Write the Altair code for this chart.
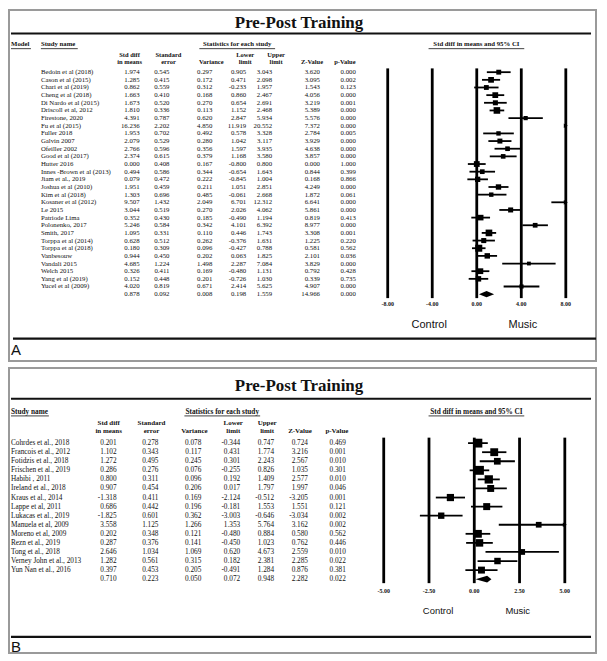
import altair as alt
import pandas as pd

# ---------------- Panel A data ----------------
studies_a = ["Bedoin et al (2018)", "Cason et al (2015)", "Chari et al (2019)", "Cheng et al (2018)",
             "Di Nardo et al (2015)", "Driscoll et al, 2012", "Firestone, 2020", "Fu et al (2015)",
             "Fuller 2018", "Galvin 2007", "Ofeiller 2002", "Good et al (2017)", "Hutter 2016",
             "Innes -Brown et al (2013)", "Jiam et al., 2019", "Joshua et al (2010)", "Kim et al (2018)",
             "Kosaner et al (2012)", "Le 2015", "Patriode Lima", "Polonenko, 2017", "Smith, 2017",
             "Torppa et al (2014)", "Torppa et al (2018)", "Vanbesouw", "Vandali 2015", "Welch 2015",
             "Yang et al (2019)", "Yucel et al (2009)"]
std_diff_a = [1.974, 1.285, 0.862, 1.663, 1.673, 1.810, 4.391, 16.236, 1.953, 2.079, 2.766, 2.374, 0.000,
              0.494, 0.079, 1.951, 1.303, 9.507, 3.044, 0.352, 5.246, 1.095, 0.628, 0.180, 0.944, 4.685,
              0.326, 0.152, 4.020]
std_err_a = [0.545, 0.415, 0.559, 0.410, 0.520, 0.336, 0.787, 2.202, 0.702, 0.529, 0.596, 0.615, 0.408,
             0.586, 0.472, 0.459, 0.696, 1.432, 0.519, 0.430, 0.584, 0.331, 0.512, 0.309, 0.450, 1.224,
             0.411, 0.448, 0.819]
variance_a = [0.297, 0.172, 0.312, 0.168, 0.270, 0.113, 0.620, 4.850, 0.492, 0.280, 0.356, 0.379, 0.167,
              0.344, 0.222, 0.211, 0.485, 2.049, 0.270, 0.185, 0.342, 0.110, 0.262, 0.096, 0.202, 1.498,
              0.169, 0.201, 0.671]
lower_a = [0.905, 0.471, -0.233, 0.860, 0.654, 1.152, 2.847, 11.919, 0.578, 1.042, 1.597, 1.168, -0.800,
           -0.654, -0.845, 1.051, -0.061, 6.701, 2.026, -0.490, 4.101, 0.446, -0.376, -0.427, 0.063, 2.287,
           -0.480, -0.726, 2.414]
upper_a = [3.043, 2.098, 1.957, 2.467, 2.691, 2.468, 5.934, 20.552, 3.328, 3.117, 3.935, 3.580, 0.800,
           1.643, 1.004, 2.851, 2.668, 12.312, 4.062, 1.194, 6.392, 1.743, 1.631, 0.788, 1.825, 7.084,
           1.131, 1.030, 5.625]
z_a = [3.620, 3.095, 1.543, 4.056, 3.219, 5.389, 5.576, 7.372, 2.784, 3.929, 4.638, 3.857, 0.000,
       0.844, 0.168, 4.249, 1.872, 6.641, 5.861, 0.819, 8.977, 3.308, 1.225, 0.581, 2.101, 3.829,
       0.792, 0.339, 4.907]
p_a = [0.000, 0.002, 0.123, 0.000, 0.001, 0.000, 0.000, 0.000, 0.005, 0.000, 0.000, 0.000, 1.000,
       0.399, 0.866, 0.000, 0.061, 0.000, 0.000, 0.413, 0.000, 0.001, 0.220, 0.562, 0.036, 0.000,
       0.428, 0.735, 0.000]
summary_a = [0.878, 0.092, 0.008, 0.198, 1.559, 14.966, 0.000]
ticks_a = [-8.0, -4.0, 0.0, 4.0, 8.0]

# ---------------- Panel B data ----------------
studies_b = ["Cohrdes et al., 2018", "Francois et al., 2012", "Fotidzis et al., 2018", "Frischen et al., 2019",
             "Habibi , 2011", "Ireland et al., 2018", "Kraus et al., 2014", "Lappe et al, 2011",
             "Lukacas et al., 2019", "Manuela et al, 2009", "Moreno et al, 2009", "Rezn et al., 2019",
             "Tong et al., 2018", "Verney John et al., 2013", "Yun Nan et al., 2016"]
std_diff_b = [0.201, 1.102, 1.272, 0.286, 0.800, 0.907, -1.318, 0.686, -1.825, 3.558, 0.202, 0.287, 2.646, 1.282, 0.397]
std_err_b = [0.278, 0.343, 0.495, 0.276, 0.311, 0.454, 0.411, 0.442, 0.601, 1.125, 0.348, 0.376, 1.034, 0.561, 0.453]
variance_b = [0.078, 0.117, 0.245, 0.076, 0.096, 0.206, 0.169, 0.196, 0.362, 1.266, 0.121, 0.141, 1.069, 0.315, 0.205]
lower_b = [-0.344, 0.431, 0.301, -0.255, 0.192, 0.017, -2.124, -0.181, -3.003, 1.353, -0.480, -0.450, 0.620, 0.182, -0.491]
upper_b = [0.747, 1.774, 2.243, 0.826, 1.409, 1.797, -0.512, 1.553, -0.646, 5.764, 0.884, 1.023, 4.673, 2.381, 1.284]
z_b = [0.724, 3.216, 2.567, 1.035, 2.577, 1.997, -3.205, 1.551, -3.034, 3.162, 0.580, 0.762, 2.559, 2.285, 0.876]
p_b = [0.469, 0.001, 0.010, 0.301, 0.010, 0.046, 0.001, 0.121, 0.002, 0.002, 0.562, 0.446, 0.010, 0.022, 0.381]
summary_b = [0.710, 0.223, 0.050, 0.072, 0.948, 2.282, 0.022]
ticks_b = [-5.0, -2.5, 0.0, 2.5, 5.0]

# ---------------- texts ----------------
title_text = "Pre-Post Training"
sub_line1 = ["Std diff", "Standard", "", "Lower", "Upper", "", ""]
sub_line2 = ["in means", "error", "Variance", "limit", "limit", "Z-Value", "p-Value"]
side_labels = ["Control", "Music"]

# ---------------- layout (page pixels) ----------------
LAYOUT_A = {
    "top": 8, "height": 352, "row0": 70.3, "dy": 7.68,
    "forest": (-8.0, 388.0, 8.0, 566.7),
    "title_y": 20.5, "head_y": 42.5, "sub_y": (53.3, 60.2),
    "vline": (66.5, 297.0), "tick_y": 302.5, "side_y": 323.5, "letter_y": 349.5,
    "rules": [(10, 592, 31.5), (12, 597, 337.7)],
    "left_heads": [("Model", 10), ("Study name", 40)],
    "center_heads": [("Statistics for each study", 237), ("Std diff in means and 95% CI", 477)],
    "underlines": [(10, 30), (40, 77), (199, 275), (429, 525)],
    "name_x": 40,
    "col_right": [139, 169, 212, 246, 272, 320, 356],
    "head_center": [129, 168, 211, 245, 276, 312, 345],
    "side_x": (-4.27, 4.14), "side_size": 11,
    "w_domain": [0, 10.5], "s_range": [12, 50],
    "diamond_half": 0.42, "font": 6.8,
}
LAYOUT_B = {
    "top": 365, "height": 286, "row0": 440.5, "dy": 9.1,
    "forest": (-5.0, 384.0, 5.0, 565.7),
    "title_y": 383.5, "head_y": 409, "sub_y": (420.7, 428.0),
    "vline": (435, 581), "tick_y": 589.3, "side_y": 609.3, "letter_y": 645,
    "rules": [(10, 592, 396), (10, 592, 635)],
    "left_heads": [("Study name", 10)],
    "center_heads": [("Statistics for each study", 222), ("Std diff in means and 95% CI", 477)],
    "underlines": [(10, 48), (184, 260), (429, 525)],
    "name_x": 10,
    "col_right": [116, 158, 201, 240, 274, 308, 346],
    "head_center": [108, 151, 194, 233, 267, 300, 337],
    "side_x": (-2.0, 2.4), "side_size": 9.5,
    "w_domain": [0, 13.2], "s_range": [30, 80],
    "diamond_half": 0.38, "font": 7.3,
}

SERIF = "Liberation Serif"
SANS = "Liberation Sans"
INK = "#111111"
LINE_W_PX = 2.8


def build_panel(L, studies, cols, summary, ticks, letter):
    X0, W = 8, 589
    H = L["height"]

    def r(py):
        return (py - L["row0"]) / L["dy"]

    yscale = alt.Scale(domain=[r(L["top"]), r(L["top"] + H)], reverse=True, nice=False, zero=False)
    pscale = alt.Scale(domain=[X0, X0 + W], nice=False, zero=False)
    u1, p1, u2, p2 = L["forest"]
    k = (p2 - p1) / (u2 - u1)
    fscale = alt.Scale(domain=[u1 + (X0 - p1) / k, u1 + (X0 + W - p1) / k], nice=False, zero=False)

    def PX(f="x"):
        return alt.X(f"{f}:Q", scale=pscale, axis=None)

    def FX(f="x"):
        return alt.X(f"{f}:Q", scale=fscale, axis=None)

    def Y(f="r"):
        return alt.Y(f"{f}:Q", scale=yscale, axis=None)

    fs = L["font"]
    layers = []

    # title
    t_df = pd.DataFrame({"text": [title_text], "x": [299.0], "r": [r(L["title_y"])]})
    layers.append(alt.Chart(t_df).mark_text(font=SERIF, fontSize=17, fontWeight="bold", color=INK)
                  .encode(x=PX(), y=Y(), text="text:N"))

    # heavy horizontal rules
    rl = pd.DataFrame({"x": [a for a, b, c in L["rules"]], "x2": [b for a, b, c in L["rules"]],
                       "r": [r(c) for a, b, c in L["rules"]]})
    layers.append(alt.Chart(rl).mark_rule(strokeWidth=2.2, color=INK)
                  .encode(x=PX(), x2="x2:Q", y=Y()))

    # headers
    lh = pd.DataFrame({"text": [t for t, x in L["left_heads"]], "x": [x for t, x in L["left_heads"]],
                       "r": [r(L["head_y"])] * len(L["left_heads"])})
    layers.append(alt.Chart(lh).mark_text(font=SERIF, fontSize=fs, fontWeight="bold", align="left", color=INK)
                  .encode(x=PX(), y=Y(), text="text:N"))
    ch = pd.DataFrame({"text": [t for t, x in L["center_heads"]], "x": [x for t, x in L["center_heads"]],
                       "r": [r(L["head_y"])] * len(L["center_heads"])})
    layers.append(alt.Chart(ch).mark_text(font=SERIF, fontSize=fs, fontWeight="bold", color=INK)
                  .encode(x=PX(), y=Y(), text="text:N"))
    ul = pd.DataFrame({"x": [a for a, b in L["underlines"]], "x2": [b for a, b in L["underlines"]],
                       "r": [r(L["head_y"] + 4.2)] * len(L["underlines"])})
    layers.append(alt.Chart(ul).mark_rule(strokeWidth=0.8, color=INK)
                  .encode(x=PX(), x2="x2:Q", y=Y()))
    sub_rows = []
    for line, py in zip([sub_line1, sub_line2], L["sub_y"]):
        for t, x in zip(line, L["head_center"]):
            if t:
                sub_rows.append({"text": t, "x": x, "r": r(py)})
    layers.append(alt.Chart(pd.DataFrame(sub_rows))
                  .mark_text(font=SERIF, fontSize=fs - 0.3, fontWeight="bold", color=INK)
                  .encode(x=PX(), y=Y(), text="text:N"))

    # study names
    n = len(studies)
    nm = pd.DataFrame({"text": studies, "x": [L["name_x"]] * n, "r": list(range(n))})
    layers.append(alt.Chart(nm).mark_text(font=SERIF, fontSize=fs, align="left", color=INK)
                  .encode(x=PX(), y=Y(), text="text:N"))

    # numeric columns (+ summary row)
    vals = []
    for ci, (col, xr) in enumerate(zip(cols, L["col_right"])):
        for i, v in enumerate(list(col) + [summary[ci]]):
            vals.append({"text": f"{v:.3f}", "x": xr, "r": i})
    layers.append(alt.Chart(pd.DataFrame(vals)).mark_text(font=SERIF, fontSize=fs, align="right", color=INK)
                  .encode(x=PX(), y=Y(), text="text:N"))

    est, var, lo, hi = cols[0], cols[2], cols[3], cols[4]
    fd = pd.DataFrame({"r": list(range(n)), "est": est, "lo": lo, "hi": hi,
                       "w": [1.0 / v for v in var]})
    fd["lo_c"] = fd["lo"].clip(u1, u2)
    fd["hi_c"] = fd["hi"].clip(u1, u2)
    ci_df = fd[fd["hi_c"] > fd["lo_c"]]
    layers.append(alt.Chart(ci_df).mark_rule(strokeWidth=1.8, color="#000")
                  .encode(x=FX("lo_c"), x2="hi_c:Q", y=Y()))
    sq = fd[(fd["est"] >= u1) & (fd["est"] <= u2)]
    layers.append(alt.Chart(sq).mark_point(shape="square", filled=True, opacity=1, color="#000")
                  .encode(x=FX("est"), y=Y(),
                          size=alt.Size("w:Q", scale=alt.Scale(domain=L["w_domain"], range=L["s_range"]),
                                        legend=None)))
    ar = fd[fd["hi"] > u2].assign(x=u2)
    if len(ar):
        layers.append(alt.Chart(ar).mark_point(shape="triangle-right", filled=True, opacity=1,
                                               color="#000", size=22)
                      .encode(x=FX(), y=Y()))
    al = fd[fd["lo"] < u1].assign(x=u1)
    if len(al):
        layers.append(alt.Chart(al).mark_point(shape="triangle-left", filled=True, opacity=1,
                                               color="#000", size=22)
                      .encode(x=FX(), y=Y()))

    # summary diamond
    dh = L["diamond_half"]
    dd = pd.DataFrame({"x": [summary[3], summary[0], summary[4]], "r": [n, n - dh, n], "r2": [n, n + dh, n]})
    layers.append(alt.Chart(dd).mark_area(color="#000", opacity=1)
                  .encode(x=FX(), y=Y(), y2="r2:Q"))

    # forest: heavy vertical reference lines at each tick, as filled rects (drawn on top)
    half = LINE_W_PX / 2.0 / k
    g3 = pd.DataFrame({"tick": ticks,
                       "gl": [t - half for t in ticks], "gr": [t + half for t in ticks],
                       "gt": [r(L["vline"][0])] * len(ticks), "gb": [r(L["vline"][1])] * len(ticks)})
    layers.append(alt.Chart(g3).mark_rect(color="#000000", opacity=1, strokeWidth=0)
                  .encode(x=FX("gl"), x2="gr:Q", y=Y("gt"), y2="gb:Q"))

    # tick labels
    tl = pd.DataFrame({"x": ticks, "text": [f"{t:.2f}" for t in ticks], "r": [r(L["tick_y"])] * len(ticks)})
    layers.append(alt.Chart(tl).mark_text(font=SERIF, fontSize=6, fontWeight="bold", color=INK)
                  .encode(x=FX(), y=Y(), text="text:N"))

    # Control / Music
    sl = pd.DataFrame({"x": list(L["side_x"]), "text": side_labels, "r": [r(L["side_y"])] * 2})
    layers.append(alt.Chart(sl).mark_text(font=SANS, fontSize=L["side_size"], color=INK)
                  .encode(x=FX(), y=Y(), text="text:N"))

    # panel letter
    lt = pd.DataFrame({"x": [10], "text": [letter], "r": [r(L["letter_y"])]})
    layers.append(alt.Chart(lt).mark_text(font=SANS, fontSize=15, align="left", color=INK)
                  .encode(x=PX(), y=Y(), text="text:N"))

    return alt.layer(*layers).resolve_scale(x="independent").properties(width=W, height=H)


panel_a = build_panel(LAYOUT_A, studies_a,
                      [std_diff_a, std_err_a, variance_a, lower_a, upper_a, z_a, p_a],
                      summary_a, ticks_a, "A")
panel_b = build_panel(LAYOUT_B, studies_b,
                      [std_diff_b, std_err_b, variance_b, lower_b, upper_b, z_b, p_b],
                      summary_b, ticks_b, "B")

chart = (alt.vconcat(panel_a, panel_b, spacing=5)
         .resolve_scale(size="independent")
         .properties(padding=0, background="white")
         .configure_view(stroke="#9a9a9a", strokeWidth=2))

chart.save("out.html", embed_options={"renderer": "svg", "actions": False})
